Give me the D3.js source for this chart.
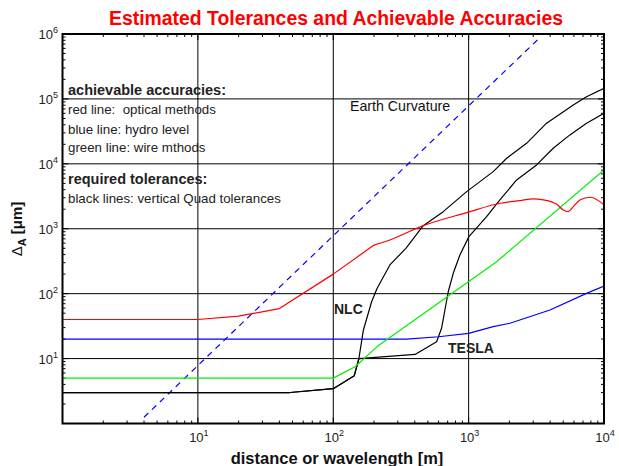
<!DOCTYPE html>
<html>
<head>
<meta charset="utf-8">
<script src="https://cdn.jsdelivr.net/npm/d3@7"></script>
<style>
  html, body { margin: 0; padding: 0; background: #fff; }
  svg { display: block; }
  text { font-family: "Liberation Sans", Arial, Helvetica, sans-serif; white-space: pre; }
</style>
</head>
<body>
<svg id="chart" width="619" height="466"></svg>
<script>
// ---------- data ----------
const xTickValues = [10, 100, 1000, 10000];
const xTickExps   = ["1", "2", "3", "4"];
const yTickValues = [10, 100, 1000, 10000, 100000, 1000000];
const yTickExps   = ["1", "2", "3", "4", "5", "6"];

// red: optical methods (straight part, then smooth part)
const redX = [1, 10, 20, 40, 100, 200];
const redY = [40, 40, 45, 59, 200, 560];
const redCurveX = [200, 262, 462, 967, 1710, 2395, 3000, 3556, 4470, 5000, 5445, 5930, 6640, 7870, 9330, 10000];
const redCurveY = [560, 672, 1116, 1770, 2470, 2712, 2878, 2780, 2385, 1950, 1834, 2190, 2780, 3055, 2617, 2330];

// blue: hydro level
const blueX = [1, 350, 600, 1000, 1520, 2020, 3990, 7430, 10000];
const blueY = [20, 20, 21.7, 24.5, 31, 35, 56, 101, 131];

// green: wire methods
const greenX = [1, 100, 145, 211, 1610, 10000];
const greenY = [5, 5, 7.5, 15.3, 311, 8050];

// black: NLC tolerance
const nlcX = [1, 48, 100, 143, 155, 167, 192, 211, 262, 344, 462, 649, 967, 1520, 1910, 2680, 3765, 5930, 7430, 10000];
const nlcY = [3, 3, 3.44, 5.45, 10.3, 27.6, 75, 121, 277, 500, 1116, 1834, 3730, 7590, 12200, 20700, 42300, 80700, 108000, 146000];

// black: TESLA tolerance
const teslaX = [1, 48, 100, 143, 155, 402, 580, 631, 668, 707, 770, 862, 1005, 1358, 1702, 2262, 3177, 4217, 5600, 7430, 10000];
const teslaY = [3, 3, 3.44, 5.45, 10, 11.6, 18.2, 29.3, 56, 107, 206, 395, 756, 1535, 2780, 5650, 9620, 17400, 27900, 42300, 60200];

// blue dashed: earth curvature
const earthX = [4, 3260];
const earthY = [1.25, 830000];

const legendLines = [
  {t: "achievable accuracies:", bold: true},
  {t: "red line:  optical methods", bold: false},
  {t: "blue line: hydro level", bold: false},
  {t: "green line: wire mthods", bold: false},
  {t: "required tolerances:", bold: true},
  {t: "black lines: vertical Quad tolerances", bold: false}
];

// ---------- layout ----------
const svg = d3.select("#chart");
const L = 62.5, R = 604, T = 34, B = 423.5;

const x = d3.scaleLog().domain([1, 10000]).range([L, R]);
const y = d3.scaleLog().domain([1, 1000000]).range([B, T]);

svg.append("defs").append("clipPath").attr("id", "clip")
  .append("rect").attr("x", L).attr("y", T).attr("width", R - L).attr("height", B - T);

// gridlines
const grid = svg.append("g");
[10, 100, 1000].forEach(v => {
  grid.append("line").attr("x1", x(v)).attr("x2", x(v)).attr("y1", T).attr("y2", B)
    .attr("stroke", "#000").attr("stroke-width", 1);
});
[10, 100, 1000, 10000, 100000].forEach(v => {
  grid.append("line").attr("x1", L).attr("x2", R).attr("y1", y(v)).attr("y2", y(v))
    .attr("stroke", "#000").attr("stroke-width", 1);
});

// ticks (inward on all four sides)
const ticks = svg.append("g").attr("stroke", "#000").attr("stroke-width", 1);
function tickVals(lo, hi) {
  const out = [];
  for (let e = lo; e < hi; e++) {
    for (let m = 1; m <= 9; m++) out.push({v: m * Math.pow(10, e), major: m === 1});
  }
  out.push({v: Math.pow(10, hi), major: true});
  return out;
}
tickVals(0, 4).forEach(d => {
  const len = d.major ? 6 : 3;
  const px = x(d.v);
  ticks.append("line").attr("x1", px).attr("x2", px).attr("y1", B).attr("y2", B - len);
  ticks.append("line").attr("x1", px).attr("x2", px).attr("y1", T).attr("y2", T + len);
});
tickVals(0, 6).forEach(d => {
  const len = d.major ? 6 : 3;
  const py = y(d.v);
  ticks.append("line").attr("x1", L).attr("x2", L + len).attr("y1", py).attr("y2", py);
  ticks.append("line").attr("x1", R).attr("x2", R - len).attr("y1", py).attr("y2", py);
});

// data lines
const line = d3.line().x(d => x(d[0])).y(d => y(d[1]));
const smooth = d3.line().x(d => x(d[0])).y(d => y(d[1])).curve(d3.curveMonotoneX);
const plot = svg.append("g").attr("clip-path", "url(#clip)");
function drawSeries(xs, ys, color, dash, gen) {
  plot.append("path")
    .datum(xs.map((v, i) => [v, ys[i]]))
    .attr("d", gen || line)
    .attr("fill", "none")
    .attr("stroke", color)
    .attr("stroke-width", 1.2)
    .attr("stroke-linejoin", "round")
    .attr("stroke-dasharray", dash || null);
}
drawSeries(earthX, earthY, "#0000ff", "6,5");
drawSeries(nlcX, nlcY, "#000000");
drawSeries(teslaX, teslaY, "#000000");
drawSeries(blueX, blueY, "#0000ff");
drawSeries(greenX, greenY, "#00ee00");
drawSeries(redX, redY, "#ff0000");
drawSeries(redCurveX, redCurveY, "#ff0000", null, smooth);

// frame
svg.append("rect").attr("x", L).attr("y", T).attr("width", R - L).attr("height", B - T)
  .attr("fill", "none").attr("stroke", "#000").attr("stroke-width", 2);

// tick labels
xTickValues.forEach((v, i) => {
  const t = svg.append("text").attr("x", x(v) + 1).attr("y", 442)
    .attr("text-anchor", "middle").attr("font-size", 13).attr("fill", "#222");
  t.append("tspan").text("10");
  t.append("tspan").attr("dy", -6).attr("font-size", 9).text(xTickExps[i]);
});
yTickValues.forEach((v, i) => {
  const t = svg.append("text").attr("x", 58).attr("y", y(v) + 5)
    .attr("text-anchor", "end").attr("font-size", 13).attr("fill", "#222");
  t.append("tspan").text("10");
  t.append("tspan").attr("dy", -6).attr("font-size", 9).text(yTickExps[i]);
});

// title
svg.append("text").attr("x", 336).attr("y", 25).attr("text-anchor", "middle")
  .attr("font-size", 19.4).attr("font-weight", "bold").attr("fill", "#ff0000")
  .text("Estimated Tolerances and Achievable Accuracies");

// axis titles
svg.append("text").attr("x", 337).attr("y", 464).attr("text-anchor", "middle")
  .attr("font-size", 16.5).attr("font-weight", "bold").attr("fill", "#111")
  .text("distance or wavelength [m]");

const yl = svg.append("text").attr("transform", "translate(22,229) rotate(-90)")
  .attr("text-anchor", "middle").attr("font-size", 15).attr("font-weight", "bold").attr("fill", "#111");
yl.append("tspan").attr("font-weight", "normal").text("\u0394");
yl.append("tspan").attr("dy", 4).attr("font-size", 11).text("A");
yl.append("tspan").attr("dy", -4).text(" [\u03bcm]");

// legend block
const legendY = [95, 114, 134, 152, 184, 202.5];
legendLines.forEach((d, i) => {
  svg.append("text").attr("x", 68).attr("y", legendY[i])
    .attr("font-size", d.bold ? 14.5 : 13.3).attr("font-weight", d.bold ? "bold" : "normal")
    .attr("fill", "#222").text(d.t);
});

// annotations
svg.append("text").attr("x", 350).attr("y", 110.5).attr("font-size", 14.2).attr("fill", "#111").text("Earth Curvature");
svg.append("text").attr("x", 334).attr("y", 314).attr("font-size", 14).attr("font-weight", "bold").attr("fill", "#222").text("NLC");
svg.append("text").attr("x", 448).attr("y", 352.5).attr("font-size", 14).attr("font-weight", "bold").attr("fill", "#222").text("TESLA");
</script>
</body>
</html>
